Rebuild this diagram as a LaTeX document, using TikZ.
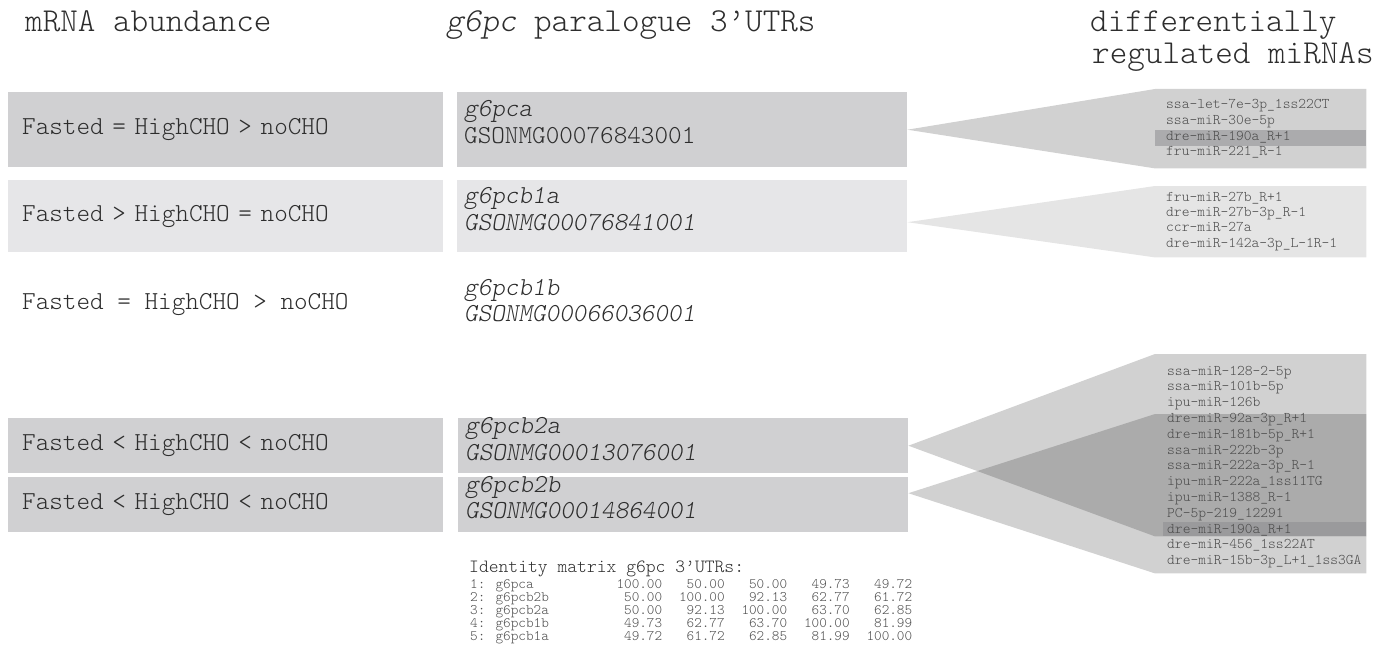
\documentclass[tikz,border=0pt]{standalone}
\usepackage{tikz}

\definecolor{boxgray}{RGB}{208,208,210}
\definecolor{boxlight}{RGB}{230,230,232}
\definecolor{hitgray}{RGB}{171,171,173}
\definecolor{hitdark}{RGB}{154,154,156}
\definecolor{ink}{RGB}{45,45,45}
\newcommand\mono{\ttfamily\fontseries{l}\selectfont}

\begin{document}
\begin{tikzpicture}[x=1pt, y=-1pt,
		hd/.style={anchor=base west, inner sep=0, text=ink, font=\mono\fontsize{33.5}{36}\selectfont},
		box/.style={rectangle, anchor=north west, inner sep=0, fill=boxgray},
		abox/.style={box, minimum width=435pt, text width=407pt, inner xsep=14pt, align=left, text=ink, font=\mono\fontsize{25.9}{28}\selectfont},
		ubox/.style={box, minimum width=450pt},
		ab/.style={anchor=base west, inner sep=0, text=ink, font=\mono\fontsize{25.9}{28}\selectfont},
		gene/.style={ab, font=\mono\slshape\fontsize{25.9}{28}\selectfont},
		panel/.style={rectangle, anchor=north west, inner sep=0, minimum width=211pt},
		fan/.style={fill=black, fill opacity=0.18},
		fanlight/.style={fill=black, fill opacity=0.1},
		mir/.style={anchor=base west, inner sep=0, text=ink!85, font=\mono\fontsize{14.8}{16}\selectfont},
		mtitle/.style={anchor=base west, inner sep=0, text=ink, font=\mono\fontsize{18.7}{20}\selectfont},
		mrow/.style={anchor=base west, inner sep=0, text=ink!85, font=\mono\fontsize{14.5}{15}\selectfont}]
		\useasboundingbox (0,0) rectangle (1386,658);

		\node[hd] (hAbund) at (25,32) {mRNA abundance};
		\node[hd] (hUtr) at (446,32) {{\slshape g6pc} paralogue 3’UTRs};
		\node[hd] (hMir1) at (1090,32) {differentially};
		\node[hd] (hMir2) at (1092,64) {regulated miRNAs};

		\node[abox, minimum height=75pt] (abA) at (8,92) {Fasted = HighCHO > noCHO};
		\node[abox, fill=boxlight, minimum height=72pt] (abB1a) at (8,180) {Fasted > HighCHO = noCHO};
		\node[ab] (abB1b) at (22,309) {Fasted = HighCHO > noCHO};
		\node[abox, minimum height=55pt] (abB2a) at (8,418) {Fasted < HighCHO < noCHO};
		\node[abox, minimum height=55pt] (abB2b) at (8,477) {Fasted < HighCHO < noCHO};

		\node[ubox, minimum height=75pt] (utrA) at (457,92) {};
		\node[ubox, fill=boxlight, minimum height=72pt] (utrB1a) at (457,180) {};
		\node[ubox, minimum height=55pt] (utrB2a) at (458,418) {};
		\node[ubox, minimum height=55pt] (utrB2b) at (458,477) {};

		\node[gene] (gA) at (464,117) {g6pca};
		\node[ab] (idA) at (464,143) {GSONMG00076843001};
		\node[gene] (gB1a) at (464,203) {g6pcb1a};
		\node[gene] (idB1a) at (464,230) {GSONMG00076841001};
		\node[gene] (gB1b) at (464,295) {g6pcb1b};
		\node[gene] (idB1b) at (464,321) {GSONMG00066036001};
		\node[gene] (gB2a) at (465,433) {g6pcb2a};
		\node[gene] (idB2a) at (465,460) {GSONMG00013076001};
		\node[gene] (gB2b) at (465,492) {g6pcb2b};
		\node[gene] (idB2b) at (465,518) {GSONMG00014864001};

		\node[panel, minimum height=79pt] (mirA) at (1155,89) {};
		\node[panel, minimum height=71pt] (mirB1a) at (1155,186) {};
		\node[panel, minimum height=182pt] (mirB2a) at (1155,354) {};
		\node[panel, minimum height=159pt] (mirB2b) at (1155,414) {};

		\fill[fan] (utrA.east) -- (mirA.north west) -- (mirA.north east) -- (mirA.south east) -- (mirA.south west) -- cycle;
		\fill[fanlight] ([yshift=-6pt]utrB1a.east) -- (mirB1a.north west) -- (mirB1a.north east) -- (mirB1a.south east) -- (mirB1a.south west) -- cycle;
		\fill[fan] (utrB2a.east) -- (mirB2a.north west) -- (mirB2a.north east) -- (mirB2a.south east) -- (mirB2a.south west) -- cycle;
		\fill[fan] ([yshift=11.5pt]utrB2b.east) -- (mirB2b.north west) -- (mirB2b.north east) -- (mirB2b.south east) -- (mirB2b.south west) -- cycle;

		\fill[hitgray] ([yshift=-41pt]mirA.north west) rectangle ([yshift=-57pt]mirA.north east);
		\fill[hitdark] ([xshift=8pt, yshift=-168pt]mirB2a.north west) rectangle (mirB2a.south east);

		\foreach \m [count=\i] in {ssa-let-7e-3p\_1ss22CT, ssa-miR-30e-5p, dre-miR-190a\_R+1, fru-miR-221\_R-1}
			\node[mir] (mA\i) at (1166, {109+15.6*(\i-1)}) {\m};
		\foreach \m [count=\i] in {fru-miR-27b\_R+1, dre-miR-27b-3p\_R-1, ccr-miR-27a, dre-miR-142a-3p\_L-1R-1}
			\node[mir] (mB\i) at (1166, {201+15.4*(\i-1)}) {\m};
		\foreach \m [count=\i] in {ssa-miR-128-2-5p, ssa-miR-101b-5p, ipu-miR-126b, dre-miR-92a-3p\_R+1, dre-miR-181b-5p\_R+1, ssa-miR-222b-3p, ssa-miR-222a-3p\_R-1, ipu-miR-222a\_1ss11TG, ipu-miR-1388\_R-1, PC-5p-219\_12291, dre-miR-190a\_R+1, dre-miR-456\_1ss22AT, dre-miR-15b-3p\_L+1\_1ss3GA}
			\node[mir] (mC\i) at (1167, {375+15.8*(\i-1)}) {\m};

		\node[mtitle] (idTitle) at (469,572) {Identity matrix g6pc 3’UTRs:};
		\foreach \lab/\a/\b/\c/\d/\e [count=\r] in {1: g6pca/100.00/50.00/50.00/49.73/49.72, 2: g6pcb2b/50.00/100.00/92.13/62.77/61.72, 3: g6pcb2a/50.00/92.13/100.00/63.70/62.85, 4: g6pcb1b/49.73/62.77/63.70/100.00/81.99, 5: g6pcb1a/49.72/61.72/62.85/81.99/100.00}
			\node[mrow] (idRow\r) at (470, {588+13*(\r-1)}) {\makebox[129.5pt][l]{\lab}\makebox[62.5pt][r]{\a}\makebox[62.5pt][r]{\b}\makebox[62.5pt][r]{\c}\makebox[62.5pt][r]{\d}\makebox[62.5pt][r]{\e}};
	\end{tikzpicture}
\end{document}
